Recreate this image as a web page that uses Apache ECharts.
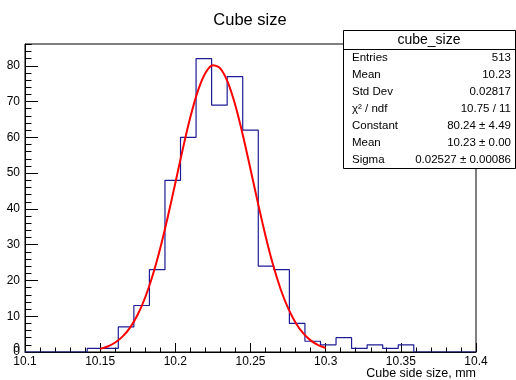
<!DOCTYPE html>
<html>
<head>
<meta charset="utf-8">
<script src="https://cdn.jsdelivr.net/npm/echarts@6/dist/echarts.min.js"></script>
<style>
html,body{margin:0;padding:0;background:#fff;}
#chart{width:516px;height:380px;}
</style>
</head>
<body>
<div id="chart"></div>
<script>
// ---- data ----
const chartTitle = 'Cube size';
const xAxisTitle = 'Cube side size, mm';
const histLow = 10.1;
const histHigh = 10.4;
const binCounts = [0, 0, 0, 0, 1, 1, 7, 13, 23, 48, 60, 82, 69, 77, 62, 24, 23, 8, 3, 2, 4, 1, 2, 1, 2, 0, 0, 0, 0];
const fitX = [10.150, 10.155, 10.160, 10.165, 10.170, 10.175, 10.180, 10.185, 10.190, 10.195,
              10.200, 10.205, 10.210, 10.215, 10.220, 10.225, 10.230, 10.235, 10.240, 10.245,
              10.250, 10.255, 10.260, 10.265, 10.270, 10.275, 10.280, 10.285, 10.290, 10.295, 10.300];
const fitY = [0.87, 1.55, 2.65, 4.36, 6.89, 10.47, 15.30, 21.52, 29.08, 37.81,
              47.26, 56.81, 65.66, 72.99, 78.01, 80.18, 79.24, 75.31, 68.82, 60.48,
              51.11, 41.54, 32.45, 24.39, 17.62, 12.24, 8.18, 5.26, 3.25, 1.93, 1.10];
const xTicks = [10.1, 10.15, 10.2, 10.25, 10.3, 10.35, 10.4];
const yTicks = [0, 10, 20, 30, 40, 50, 60, 70, 80];
const yMax = 86.1;
const statsTitle = 'cube_size';
const statsLabels = ['Entries', 'Mean', 'Std Dev', 'χ² / ndf', 'Constant', 'Mean', 'Sigma'];
const statsValues = ['513', '10.23', '0.02817', '10.75 / 11', '80.24 ± 4.49', '10.23 ± 0.00', '0.02527 ± 0.00086'];

// ---- build ----
const nBins = binCounts.length;
const binW = (histHigh - histLow) / nBins;
const histData = [];
for (let k = 0; k < nBins; k++) histData.push([histLow + k * binW, binCounts[k]]);
histData.push([histHigh, binCounts[nBins - 1]]);
const fitData = fitX.map((x, i) => [x, fitY[i]]);

const FONT = "'Liberation Sans', Arial, Helvetica, sans-serif";
const grid = {left: 25, right: 40, top: 44, bottom: 28};

const chart = echarts.init(document.getElementById('chart'), null, {renderer: 'canvas'});

const graphics = [];
graphics.push({type: 'text', x: 250, y: 20, z: 100,
  style: {text: chartTitle, font: '16.5px ' + FONT, fill: '#000', align: 'center', verticalAlign: 'middle'}});
graphics.push({type: 'text', x: 476, y: 374, z: 100,
  style: {text: xAxisTitle, font: '12.5px ' + FONT, fill: '#000', align: 'right', verticalAlign: 'middle'}});
// stats box
const bx = 343, by = 30, bw = 172, bh = 138, sep = 49;
graphics.push({type: 'rect', z: 100, shape: {x: bx + 0.5, y: by + 0.5, width: bw, height: bh},
  style: {fill: '#fff', stroke: '#000', lineWidth: 1}});
graphics.push({type: 'line', z: 101, shape: {x1: bx + 0.5, y1: sep + 0.5, x2: bx + bw + 0.5, y2: sep + 0.5},
  style: {stroke: '#000', lineWidth: 1}});
graphics.push({type: 'text', z: 102, x: bx + bw / 2, y: (by + sep) / 2 + 1,
  style: {text: statsTitle, font: '14px ' + FONT, fill: '#000', align: 'center', verticalAlign: 'middle'}});
const rowH = (by + bh - sep) / statsLabels.length;
statsLabels.forEach((lab, i) => {
  const cy = sep + rowH * (i + 0.5);
  graphics.push({type: 'text', z: 102, x: bx + 9, y: cy,
    style: {text: lab, font: '11.5px ' + FONT, fill: '#000', align: 'left', verticalAlign: 'middle'}});
  graphics.push({type: 'text', z: 102, x: bx + bw - 4, y: cy,
    style: {text: statsValues[i], font: '11.5px ' + FONT, fill: '#000', align: 'right', verticalAlign: 'middle'}});
});

chart.setOption({
  animation: false,
  backgroundColor: '#fff',
  grid: Object.assign({show: true, borderColor: '#000', borderWidth: 1, backgroundColor: '#fff'}, grid),
  xAxis: [{
    type: 'value', min: histLow, max: histHigh, interval: 0.05,
    axisLine: {show: true, onZero: false, lineStyle: {color: '#000', width: 1}},
    axisTick: {show: true, inside: true, length: 9, lineStyle: {color: '#000'}},
    minorTick: {show: true, splitNumber: 5, length: 4.5, lineStyle: {color: '#000'}},
    splitLine: {show: false},
    axisLabel: {show: true, color: '#000', fontSize: 12, fontFamily: FONT, margin: 4,
      customValues: xTicks, hideOverlap: false,
      formatter: v => String(parseFloat(v.toFixed(3)))}
  }],
  yAxis: [{
    type: 'value', min: 0, max: yMax, interval: 10, position: 'left',
    axisLine: {show: true, onZero: false, lineStyle: {color: '#000', width: 1}},
    axisTick: {show: true, inside: true, length: 13, customValues: yTicks, lineStyle: {color: '#000'}},
    splitLine: {show: false},
    axisLabel: {show: true, color: '#000', fontSize: 12, fontFamily: FONT, margin: 5,
      showMinLabel: true, showMaxLabel: false, hideOverlap: false,
      formatter: v => (yTicks.indexOf(v) >= 0 ? String(v) : '')}
  }, {
    type: 'value', min: 0, max: yMax, interval: 2, position: 'left', offset: 0,
    axisLine: {show: false},
    axisTick: {show: true, inside: true, length: 6.5, lineStyle: {color: '#000'}},
    splitLine: {show: false},
    axisLabel: {show: false}
  }],
  series: [{
    type: 'line', name: 'hist', data: histData, step: 'end', symbol: 'none',
    xAxisIndex: 0, yAxisIndex: 0,
    lineStyle: {color: '#1c1c96', width: 1.2}, z: 3
  }, {
    type: 'line', name: 'fit', data: fitData, smooth: 0.3, symbol: 'none',
    xAxisIndex: 0, yAxisIndex: 0,
    lineStyle: {color: '#ff0000', width: 2}, z: 4
  }]
});

// y-axis zero label (hidden by the library's min-label overlap handling), placed via the axis scale
const zeroPt = chart.convertToPixel({gridIndex: 0}, [histLow, yTicks[0]]);
graphics.push({type: 'text', z: 100, x: zeroPt[0] - 5, y: zeroPt[1] - 3,
  style: {text: String(yTicks[0]), font: '12px ' + FONT, fill: '#000', align: 'right', verticalAlign: 'middle'}});
chart.setOption({graphic: graphics});
</script>
</body>
</html>
